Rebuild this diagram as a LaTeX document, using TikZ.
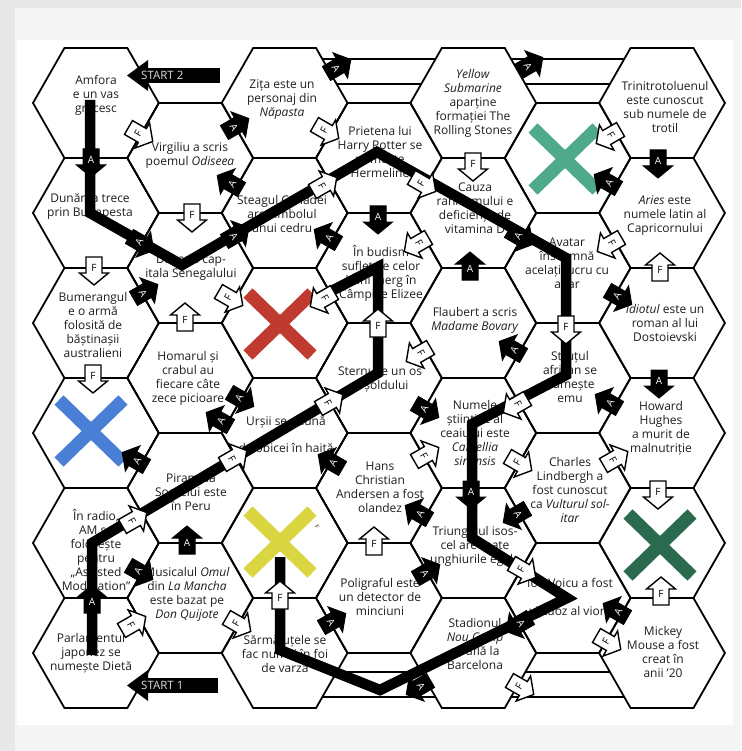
\documentclass[tikz,border=0pt]{standalone}
\usepackage{fontspec}
\setmainfont{Open Sans}
\usetikzlibrary{calc}
\definecolor{outerg}{HTML}{E8E8E8}
\definecolor{panelg}{HTML}{F5F5F5}
\definecolor{qtextc}{HTML}{1E1E1E}
\definecolor{xgreen}{HTML}{4FA98B}
\definecolor{xred}{HTML}{BF3B30}
\definecolor{xblue}{HTML}{4A7FD6}
\definecolor{xyellow}{HTML}{D9D641}
\definecolor{xdgreen}{HTML}{2A6B4F}
\definecolor{startc}{HTML}{DDDDDD}
\newcommand{\hexat}[2]{\draw[hexline,shift={(#1,#2)}] (-62.9,0) -- (-31.45,-55) -- (31.45,-55) -- (62.9,0) -- (31.45,55) -- (-31.45,55) -- cycle;}
\newcommand{\bdgA}[5]{\begin{scope}[shift={(#2,#3)},rotate=#4]\path[badgeA] (-11,-8) -- (5,-8) -- (5,-14.5) -- (17,0) -- (5,14.5) -- (5,8) -- (-11,8) -- cycle;\end{scope}\node[lblA,rotate=#5] (#1) at (#2,#3) {A};}
\newcommand{\bdgF}[5]{\begin{scope}[shift={(#2,#3)},rotate=#4]\path[badgeF] (-11,-8) -- (5,-8) -- (5,-14.5) -- (17,0) -- (5,14.5) -- (5,8) -- (-11,8) -- cycle;\end{scope}\node[lblF,rotate=#5] (#1) at (#2,#3) {F};}
\begin{document}
\begin{tikzpicture}[x=1pt,y=-1pt,
  hexline/.style={draw=black,line width=1.8pt,line join=miter},
  ladder/.style={draw=black,line width=1.8pt},
  qtext/.style={align=center,font=\fontsize{12}{14}\selectfont,text=qtextc,inner sep=0pt},
  route/.style={draw=black,line width=10.5pt,line join=miter,miter limit=4},
  xmark/.style={line width=13pt},
  badgeA/.style={fill=black,draw=black,line width=1pt,line join=miter},
  badgeF/.style={fill=white,draw=black,line width=1.4pt,line join=miter},
  lblA/.style={text=white,font=\fontsize{10}{10}\selectfont,inner sep=0pt},
  lblF/.style={text=black,font=\fontsize{10}{10}\selectfont,inner sep=0pt},
  starttext/.style={text=startc,font=\fontsize{11.5}{12}\selectfont,inner sep=0pt,anchor=west}]
\useasboundingbox (0,0) rectangle (741,751);
% background
\fill[outerg] (0,0) rectangle (741,751);
\fill[panelg] (15,8) rectangle (741,751);
\fill[white] (17,40) rectangle (733,725);
% hex grid
\foreach \cx in {95.9,284.6,473.3,662.0}{\foreach \cy in {103,213,323,433,543,653}{\hexat{\cx}{\cy}}}
\foreach \cx in {190.25,378.95,567.65}{\foreach \cy in {158,268,378,488,598}{\hexat{\cx}{\cy}}}
% ladders
\draw[ladder] (322.34,59) -- (435.56,59);
\draw[ladder] (336.64,84) -- (421.26,84);
\draw[ladder] (511.04,59) -- (624.26,59);
\draw[ladder] (525.34,84) -- (609.96,84);
\draw[ladder] (322.34,697) -- (435.56,697);
\draw[ladder] (336.64,672) -- (421.26,672);
\draw[ladder] (511.04,697) -- (624.26,697);
\draw[ladder] (525.34,672) -- (609.96,672);
% X marks
\draw[xmark,xgreen] (533,128) -- (597,190) (533,190) -- (597,128);
\draw[xmark,xred] (248,293) -- (312,355) (248,355) -- (312,293);
\draw[xmark,xblue] (59,400) -- (123,462) (59,462) -- (123,400);
\draw[xmark,xyellow] (248,511) -- (312,573) (248,573) -- (312,511);
\draw[xmark,xdgreen] (628,514) -- (692,576) (628,576) -- (692,514);
\node[text=qtextc,font=\fontsize{6}{6}\selectfont,rotate=-60,inner sep=0pt] (smallF) at (317,527) {F};
% texts
\node[qtext] (tAmfora) at (96,95) {Amfora\\e un vas\\grecesc};
\node[qtext] (tVirgiliu) at (190,155) {Virgiliu a scris\\poemul \textit{Odiseea}};
\node[qtext] (tZita) at (282,100) {Zița este un\\personaj din\\\textit{Năpasta}};
\node[qtext] (tDunarea) at (90,207) {Dunărea trece\\prin Budapesta};
\node[qtext] (tSteagul) at (282,214) {Steagul Canadei\\are simbolul\\unui cedru};
\node[qtext] (tPrietena) at (380,152) {Prietena lui\\Harry Potter se\\numește\\Hermeline};
\node[qtext] (tYellow) at (473,103) {\textit{Yellow}\\\textit{Submarine}\\aparține\\formației The\\Rolling Stones};
\node[qtext] (tTrinitro) at (665,107) {Trinitrotoluenul\\este cunoscut\\sub numele de\\trotil};
\node[qtext] (tDakar) at (191,267) {Dakar e cap-\\itala Senegalului};
\node[qtext] (tCauza) at (475,208) {Cauza\\rahitismului e\\deficiența de\\vitamina D};
\node[qtext] (tAries) at (665,216) {\textit{Aries} este\\numele latin al\\Capricornului};
\node[qtext] (tBudism) at (381,273) {În budism\\sufletele celor\\buni merg în\\Câmpiile Elizee};
\node[qtext] (tAvatar) at (567,263) {Avatar\\înseamnă\\acelați lucru cu\\altar};
\node[qtext] (tBumerang) at (93,325) {Bumerangul\\e o armă\\folosită de\\băștinașii\\australieni};
\node[qtext] (tFlaubert) at (475,320) {Flaubert a scris\\\textit{Madame Bovary}};
\node[qtext] (tIdiotul) at (665,323) {\textit{Idiotul} este un\\roman al lui\\Dostoievski};
\node[qtext] (tHomarul) at (188,378) {Homarul și\\crabul au\\fiecare câte\\zece picioare};
\node[qtext] (tSternul) at (380,379) {Sternul e un os\\al șoldului};
\node[qtext] (tStrutul) at (570,377) {Struțul\\african se\\numește\\emu};
\node[qtext] (tUrsii) at (286,434) {Urșii se adună\\[13pt]de obicei în haită};
\node[qtext] (tNumele) at (475,433) {Numele\\științific al\\ceaiului este\\\textit{Camellia}\\\textit{sinensis}};
\node[qtext] (tHoward) at (661,428) {Howard\\Hughes\\a murit de\\malnutriție};
\node[qtext] (tPiramida) at (191,492) {Piramida\\Soarelui este\\în Peru};
\node[qtext] (tHans) at (380,487) {Hans\\Christian\\Andersen a fost\\olandez};
\node[qtext] (tCharles) at (570,490) {Charles\\Lindbergh a\\fost cunoscut\\ca \textit{Vulturul sol-}\\\textit{itar}};
\node[qtext] (tRadio) at (96,550) {În radio,\\AM se\\folosește\\pentru\\„Assisted\\Modulation”};
\node[qtext] (tMusical) at (187,594) {Musicalul \textit{Omul}\\din \textit{La Mancha}\\este bazat pe\\\textit{Don Quijote}};
\node[qtext] (tTriunghi) at (475,546) {Triunghiul isos-\\cel are toate\\unghiurile egale};
\node[qtext] (tPoligraf) at (380,597) {Poligraful este\\un detector de\\minciuni};
\node[qtext] (tVoicu) at (570,597) {Ion Voicu a fost\\[14pt]virtuoz al viorii};
\node[qtext] (tStadion) at (475,644) {Stadionul\\\textit{Nou Camp}\\se află la\\Barcelona};
\node[qtext] (tSarmale) at (285,654) {Sărmăluțele se\\fac numai în foi\\de varză};
\node[qtext] (tParlament) at (91,653) {Parlamentul\\japonez se\\numește Dietă};
\node[qtext] (tMickey) at (663,652) {Mickey\\Mouse a fost\\creat în\\anii '20};
% routes
\coordinate (p1a) at (90,100);
\coordinate (p1b) at (90,213);
\coordinate (p1c) at (182,265);
\coordinate (p1d) at (377,152);
\coordinate (p1e) at (566,258);
\coordinate (p1f) at (566,375);
\coordinate (p1g) at (472,424);
\coordinate (p1h) at (472,538);
\coordinate (p1i) at (567,598);
\coordinate (p1j) at (380,690);
\coordinate (p1k) at (280,650);
\coordinate (p1l) at (280,557);
\draw[route] (p1a) -- (p1b) -- (p1c) -- (p1d) -- (p1e) -- (p1f) -- (p1g) -- (p1h) -- (p1i) -- (p1j) -- (p1k) -- (p1l);
\coordinate (p2a) at (92,655);
\coordinate (p2b) at (92,543);
\coordinate (p2c) at (378,373);
\coordinate (p2d) at (378,267);
\coordinate (p2e) at (314,300);
\draw[route] (p2a) -- (p2b) -- (p2c) -- (p2d) -- (p2e);
% badges A
\foreach \bn/\bx/\by/\bt/\br in {a1/91/160/-90/0, a2/234/127/30/-60, a3/336/68/30/-60, a4/232/184/150/60,
  a5/139/242/-30/60, a6/234/236/30/-60, a7/143/293/30/-60, a8/239/398/-30/60, a9/221/421/150/60,
  a10/329/238/150/60, a11/378/217/-90/0, a12/528/66/30/-60, a13/658/161/-90/0, a14/609/183/150/60,
  a15/518/236/-30/60, a16/470/269/90/0, a17/514/350/150/60, a18/617/296/-30/60, a19/659/381/-90/0,
  a20/610/403/150/60, a21/424/409/-30/60, a22/333/463/150/60, a23/471/492/-90/0, a24/137/461/150/60,
  a25/518/514/210/-60, a26/420/514/150/60, a27/425/573/30/-60, a28/521/623/210/-60, a29/618/612/150/60,
  a30/421/686/210/-60, a31/138/571/-30/60, a32/92/602/90/0, a33/187/543/90/0, a34/331/622/30/-60}
  {\bdgA{b\bn}{\bx}{\by}{\bt}{\br}}
% badges F
\foreach \bn/\bx/\by/\bt/\br in {f1/138/133/-30/60, f2/192/215/-90/0, f3/324/130/-30/60, f4/322/186/30/-60,
  f5/94/268/-90/0, f6/228/297/-30/60, f7/93/376/-90/0, f8/185/320/90/0, f9/325/298/210/-60,
  f10/419/243/210/-60, f11/421/183/-30/60, f12/473/164/-90/0, f13/611/135/210/-60, f14/612/243/210/-60,
  f15/378/326/90/0, f16/421/353/210/-60, f17/566/327/-90/0, f18/660/270/90/0, f19/518/404/210/-60,
  f20/328/403/30/-60, f21/424/456/30/-60, f22/517/462/-30/60, f23/613/460/30/-60, f24/658/492/-90/0,
  f25/232/459/30/-60, f26/374/544/90/0, f27/521/569/-30/60, f28/606/641/-30/60, f29/661/594/90/0,
  f30/519/686/-30/60, f31/132/521/30/-60, f32/131/625/30/-60, f33/236/623/-30/60, f34/280/598/90/0}
  {\bdgF{b\bn}{\bx}{\by}{\bt}{\br}}
% start markers
\fill[black] (137,68) rectangle (220,83);
\fill[black] (127,75.5) -- (148,60) -- (148,91) -- cycle;
\node[starttext] (start2) at (141,75.5) {START 2};
\fill[black] (137,678) rectangle (218,693);
\fill[black] (127,685.5) -- (148,670) -- (148,701) -- cycle;
\node[starttext] (start1) at (141,685.5) {START 1};
\end{tikzpicture}
\end{document}
